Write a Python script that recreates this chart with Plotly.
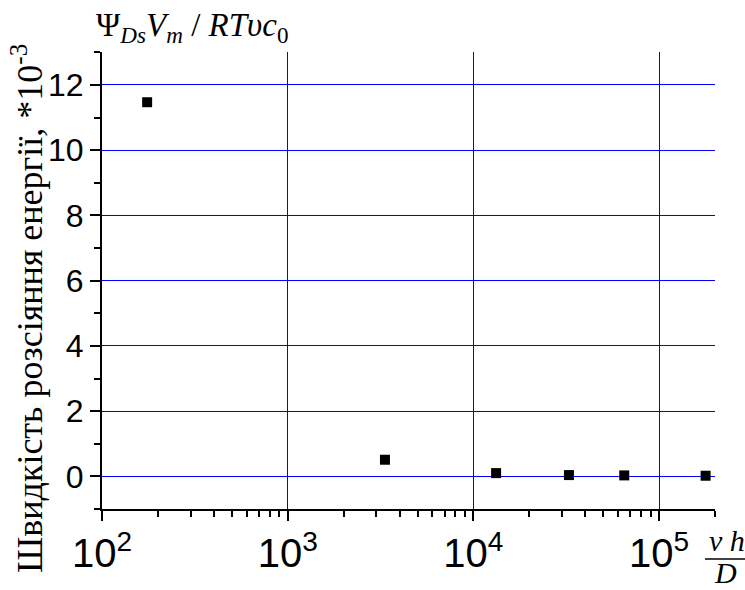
import plotly.graph_objects as go

# data
x_vals = [175, 3340, 13250, 32700, 64900, 178000]
y_vals = [11.47, 0.51, 0.10, 0.04, 0.03, 0.02]

y_title = "Швидкість розсіяння енергії, *10<sup>-3</sup>"
top_label = "Ψ<sub><i>Ds</i></sub><i>V<sub>m</sub></i> / <i>RTυc</i><sub>0</sub>"

fig = go.Figure()
fig.add_trace(go.Scatter(
    x=x_vals, y=y_vals, mode="markers",
    marker=dict(symbol="square", size=10, color="black"),
    showlegend=False,
))

W, H = 745, 590
L, R, T, B = 102, 30, 52, 81
PW, PH = W - L - R, H - T - B

def px(xp):
    return (xp - L) / PW

def py(yp):
    return (H - B - yp) / PH

fig.update_layout(
    width=W, height=H,
    margin=dict(l=L, r=R, t=T, b=B),
    paper_bgcolor="white", plot_bgcolor="white",
    font=dict(family="Arial", size=32, color="black"),
    xaxis=dict(
        type="log", range=[2, 5.301],
        dtick=1, exponentformat="power", showexponent="all",
        showline=True, linecolor="black", linewidth=2,
        ticks="outside", ticklen=10, tickwidth=2, tickcolor="black",
        showgrid=True, gridcolor="#0000ff", gridwidth=1.2,
        minor=dict(dtick="D1", ticks="outside", ticklen=6, tickwidth=2,
                   tickcolor="black", showgrid=False),
        zeroline=False,
        tickfont=dict(family="Arial", size=32),
    ),
    yaxis=dict(
        range=[-1, 13.01], dtick=2, tick0=0,
        showline=True, linecolor="black", linewidth=2,
        ticks="outside", ticklen=10, tickwidth=2, tickcolor="black",
        showgrid=True, gridcolor="#0000ff", gridwidth=1,
        minor=dict(dtick=1, ticks="outside", ticklen=6, tickwidth=2,
                   tickcolor="black", showgrid=False),
        zeroline=False,
        tickfont=dict(family="Arial", size=32),
    ),
)

serif_family = "Liberation Serif, Times New Roman, serif"

fig.add_annotation(
    text=y_title, textangle=-90, showarrow=False,
    xref="paper", yref="paper", x=px(27), y=py(309),
    xanchor="center", yanchor="middle",
    font=dict(family=serif_family, size=36, color="black"),
)
fig.add_annotation(
    text=top_label, showarrow=False,
    xref="paper", yref="paper", x=px(94), y=py(28),
    xanchor="left", yanchor="middle",
    font=dict(family=serif_family, size=33, color="black"),
)
# fraction label v h / D
fig.add_annotation(
    text="<i>v h</i>", showarrow=False,
    xref="paper", yref="paper", x=px(727), y=py(540),
    xanchor="center", yanchor="middle",
    font=dict(family=serif_family, size=30, color="black"),
)
fig.add_shape(type="line", xref="paper", yref="paper",
              x0=px(705), x1=px(745), y0=py(559), y1=py(559),
              line=dict(color="black", width=1.5))
fig.add_annotation(
    text="<i>D</i>", showarrow=False,
    xref="paper", yref="paper", x=px(725), y=py(572),
    xanchor="center", yanchor="middle",
    font=dict(family=serif_family, size=30, color="black"),
)

fig.write_html("out.html")
